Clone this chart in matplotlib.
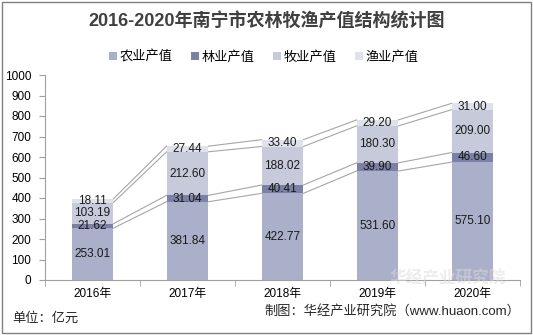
import matplotlib.pyplot as plt
import numpy as np

plt.rcParams['font.family'] = ['Liberation Sans', 'Noto Sans CJK SC', 'DejaVu Sans']

years = ['2016年', '2017年', '2018年', '2019年', '2020年']
series_names = ['农业产值', '林业产值', '牧业产值', '渔业产值']
agri = [253.01, 381.84, 422.77, 531.60, 575.10]
forest = [21.62, 31.04, 40.41, 39.90, 46.60]
animal = [103.19, 212.60, 188.02, 180.30, 209.00]
fish = [18.11, 27.44, 33.40, 29.20, 31.00]
colors = ['#aab0c9', '#7a81a4', '#c7cadb', '#e0e2eb']

fig = plt.figure(figsize=(5.33, 3.35), dpi=100)
ax = fig.add_axes([45 / 533, 55 / 335, 475 / 533, 205 / 335])

x = np.arange(len(years))
w = 0.44
bottom = np.zeros(len(years))
tops = []
for name, vals, c in zip(series_names, [agri, forest, animal, fish], colors):
    vals = np.array(vals)
    ax.bar(x, vals, w, bottom=bottom, color=c, label=name, zorder=2)
    for xi, b, v in zip(x, bottom, vals):
        ax.text(xi, b + v / 2, f'{v:.2f}', ha='center', va='center',
                fontsize=8.5, color='#1a1a1a', zorder=4)
    bottom = bottom + vals
    tops.append(bottom.copy())

# series lines between bars
for t in tops:
    for i in range(len(years) - 1):
        ax.plot([x[i] + w / 2, x[i + 1] - w / 2], [t[i], t[i + 1]],
                color='#a6a6a6', lw=0.8, zorder=1)

ax.set_xlim(-0.5, len(years) - 0.5)
ax.set_ylim(0, 1000)
ax.set_yticks(range(0, 1001, 100))
ax.set_xticks(x)
ax.set_xticklabels(years)
ax.set_xticks(np.arange(-0.5, len(years), 1), minor=True)
ax.tick_params(axis='x', which='major', length=0, labelsize=8.5, pad=6)
ax.tick_params(axis='x', which='minor', length=4, color='#a0a0a0')
ax.tick_params(axis='y', length=4, color='#a0a0a0', labelsize=8.5, pad=6)
for s in ['top', 'right']:
    ax.spines[s].set_visible(False)
ax.spines['left'].set_color('#a0a0a0')
ax.spines['bottom'].set_color('#a0a0a0')

fig.text(0.5, 0.935, '2016-2020年南宁市农林牧渔产值结构统计图', ha='center', va='center',
         fontsize=13, fontweight='bold', color='#404040')
fig.legend(loc='center', bbox_to_anchor=(0.495, 0.83), ncol=4, frameon=False,
           fontsize=9.5, handlelength=0.6, handleheight=0.6, handletextpad=0.2,
           columnspacing=1.4)

fig.text(12 / 533, 1 - 318 / 335, '单位：亿元', ha='left', va='center', fontsize=9.5, color='#262626')
fig.text(520 / 533, 1 - 311 / 335, '制图：华经产业研究院（www.huaon.com）', ha='right', va='center',
         fontsize=9.5, color='#262626')
fig.text(0.84, 1 - 278 / 335, '华经产业研究院', ha='center', va='center', fontsize=12,
         fontweight='bold', color='#dcdcdc', alpha=0.5, zorder=0)

fig.patches.append(plt.Rectangle((0.003, 0.005), 0.994, 0.99, transform=fig.transFigure,
                                 fill=False, edgecolor='#808080', lw=1))

fig.savefig('out.png', dpi=100)
